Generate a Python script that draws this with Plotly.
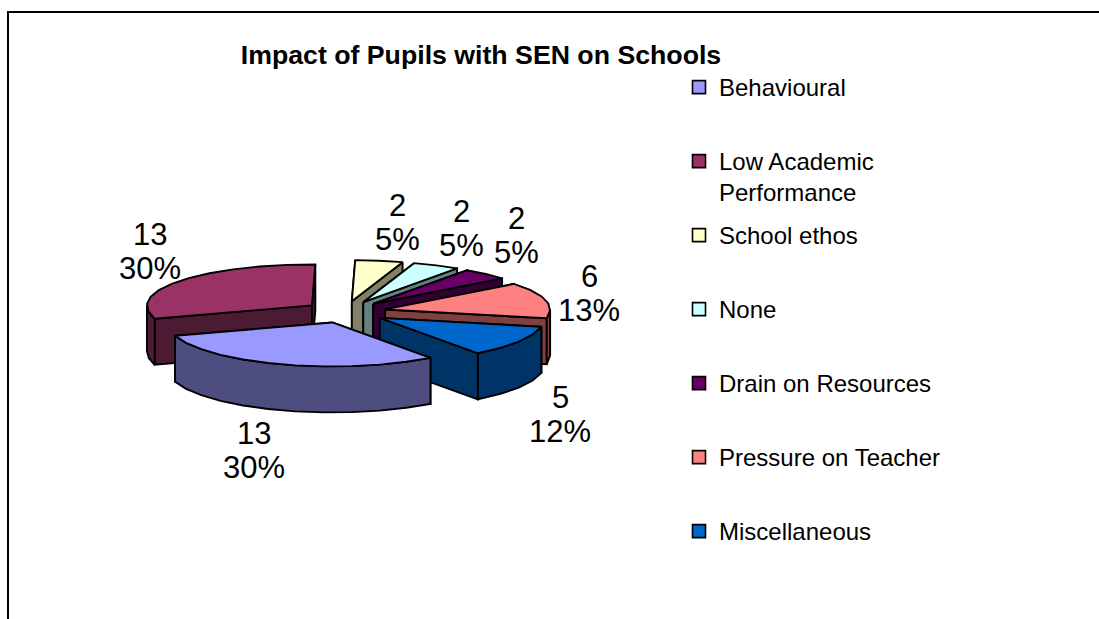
import math
import plotly.graph_objects as go

# ---- data ----
categories = ["Behavioural", "Low Academic", "School ethos", "None",
              "Drain on Resources", "Pressure on Teacher", "Miscellaneous"]
values = [13, 13, 2, 2, 2, 6, 5]
percent_labels = ["30%", "30%", "5%", "5%", "5%", "13%", "12%"]
top_colors = ["#9999FF", "#993366", "#FFFFCC", "#CCFFFF", "#660066", "#FF8080", "#0066CC"]
side_colors = ["#4D4D80", "#4D1A33", "#808066", "#668080", "#330033", "#804040", "#003366"]
title_text = "Impact of Pupils with SEN on Schools"

# ---- projection of the tilted pie into page pixels ----
CX, CY, RX, RY, RY_BACK, DEPTH, PULL = 345, 312, 165, 44, 41, 46, 0.25
START_ANGLE = 53.5
W, H = 1099, 619
LABEL_POS = [(254, 450), (149.5, 251), (397, 222), (461, 228), (516, 235), (589, 293), (560, 414)]
LEGEND_TOP = [65, 139, 213, 287, 361, 435, 509]
DRAW_ORDER = [2, 3, 4, 5, 1, 6, 0]

total = sum(values)
spans = []
a = START_ANGLE
for v in values:
    spans.append((a, a + v / total * 360))
    a = spans[-1][1]

def pt(apex, deg, dz=0):
    r = math.radians(deg)
    s = math.sin(r)
    return apex[0] + RX * math.cos(r), apex[1] + (RY if s > 0 else RY_BACK) * s + dz

fig = go.Figure()

def poly(xy, color):
    xs = [p[0] for p in xy] + [xy[0][0]]
    ys = [p[1] for p in xy] + [xy[0][1]]
    fig.add_trace(go.Scatter(x=xs, y=ys, mode="lines", fill="toself", fillcolor=color,
                             line=dict(color="black", width=1.9), showlegend=False,
                             hoverinfo="skip"))

for i in DRAW_ORDER:
    a0, a1 = spans[i]
    mid = math.radians((a0 + a1) / 2)
    apex = (CX + PULL * RX * math.cos(mid), CY + PULL * RY * math.sin(mid))
    down = (apex[0], apex[1] + DEPTH)
    # radial cut faces
    for edge in (a0, a1):
        poly([apex, pt(apex, edge), pt(apex, edge, DEPTH), down], side_colors[i])
    # outer rim: only the part that faces the viewer (coarse facets, as in the reference)
    n = max(2, round((a1 - a0) / 10))
    for lo, hi in ((a0, min(a1, 180)), (max(a0, 360), a1)):
        if hi > lo:
            m = max(1, round((hi - lo) / 10))
            arc = [lo + (hi - lo) * k / m for k in range(m + 1)]
            poly([pt(apex, d) for d in arc] + [pt(apex, d, DEPTH) for d in reversed(arc)],
                 side_colors[i])
    # top face
    arc = [a0 + (a1 - a0) * k / n for k in range(n + 1)]
    poly([apex] + [pt(apex, d) for d in arc], top_colors[i])

# legend entries, one small legend per row
layout_legends = {}
for i, name in enumerate(categories):
    key = "legend" if i == 0 else f"legend{i + 1}"
    fig.add_trace(go.Scatter(x=[None], y=[None], mode="markers", name=name, legend=key,
                             marker=dict(symbol="square", size=13, color=top_colors[i],
                                         line=dict(color="black", width=1.6))))
    layout_legends[key] = dict(x=679 / W, y=1 - LEGEND_TOP[i] / H, xanchor="left", yanchor="top",
                               bgcolor="rgba(0,0,0,0)", font=dict(size=24, color="black"),
                               itemclick=False, itemdoubleclick=False, itemwidth=30,
                               borderwidth=0)

# data labels
annotations = [dict(x=717, y=192, xref="x", yref="y", xanchor="left", text="Performance",
                    showarrow=False, font=dict(size=24, color="black"))]
for i, (x, y) in enumerate(LABEL_POS):
    annotations.append(dict(x=x, y=y - 17, xref="x", yref="y", text=str(values[i]), showarrow=False,
                            font=dict(size=31, color="black")))
    annotations.append(dict(x=x, y=y + 17, xref="x", yref="y", text=percent_labels[i], showarrow=False,
                            font=dict(size=31, color="black")))

fig.update_layout(
    width=W, height=H, margin=dict(l=0, r=0, t=0, b=0),
    paper_bgcolor="white", plot_bgcolor="white", showlegend=True,
    font=dict(family="Liberation Sans, Arial, sans-serif", color="black"),
    title=dict(text=f"<b>{title_text}</b>", x=481 / W, xanchor="center", y=1 - 55 / H, yanchor="middle",
               font=dict(size=26.7, color="black")),
    xaxis=dict(range=[0, W], visible=False, fixedrange=True),
    yaxis=dict(range=[H, 0], visible=False, fixedrange=True),
    annotations=annotations,
    shapes=[dict(type="path", path=f"M 8 {H + 5} L 8 12 L {W + 5} 12", xref="x", yref="y",
                 line=dict(color="black", width=2))],
    **layout_legends,
)

fig.write_html("out.html", config={"displayModeBar": False},
               post_script="document.body.style.margin='0';document.body.style.overflow='hidden';")
